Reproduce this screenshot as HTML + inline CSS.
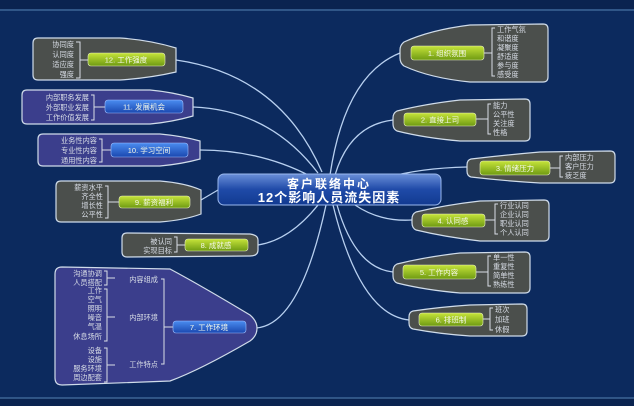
<!DOCTYPE html>
<html><head><meta charset="utf-8"><style>
html,body{margin:0;padding:0;background:#0c2a5e;}
svg{display:block}
text{font-family:"Liberation Sans","Noto Sans CJK SC",sans-serif;}
.l{fill:#d8dde6;font-size:7.2px}
.b{fill:#f4f8e8;font-size:7.5px}
</style></head><body>
<svg width="634" height="406" viewBox="0 0 634 406" xmlns="http://www.w3.org/2000/svg">
<defs>
<linearGradient id="g" x1="0" y1="0" x2="0" y2="1"><stop offset="0" stop-color="#c6e43a"/><stop offset="1" stop-color="#6e9a12"/></linearGradient>
<linearGradient id="bl" x1="0" y1="0" x2="0" y2="1"><stop offset="0" stop-color="#4a8cf0"/><stop offset="1" stop-color="#1a48b0"/></linearGradient>
<linearGradient id="c" x1="0" y1="0" x2="0" y2="1"><stop offset="0" stop-color="#6a8fd8"/><stop offset="0.5" stop-color="#1f4aa8"/><stop offset="1" stop-color="#123a90"/></linearGradient>
</defs>
<rect width="634" height="406" fill="#0c2a5e"/>
<rect x="0" y="0" width="634" height="9" fill="#0a2350"/>
<line x1="0" y1="10" x2="634" y2="10" stroke="#3d6496" stroke-width="1.5"/>
<rect x="0" y="398" width="634" height="8" fill="#0a2350"/>
<line x1="0" y1="398" x2="634" y2="398" stroke="#3d6496" stroke-width="1.5"/>

<g fill="none" stroke="#b8d0f0" stroke-width="1.3">
<path d="M330,175 Q345,75 400,53"/>
<path d="M335,175 Q350,125 393,120"/>
<path d="M385,178 Q420,168 467,167"/>
<path d="M355,205 Q380,222 412,220"/>
<path d="M337,205 Q355,268 393,272"/>
<path d="M333,205 Q360,315 409,320"/>
<path d="M322,172 Q280,75 176,60"/>
<path d="M318,173 Q270,110 193,107"/>
<path d="M310,176 Q260,150 200,150"/>
<path d="M218,190 L201,200"/>
<path d="M318,205 Q290,240 258,245"/>
<path d="M326,205 Q300,325 256,328"/>
</g>

<g stroke="#d0dcea" stroke-width="1.2">
<path d="M38,38 L120,38 Q150,40 176,48 L176,72 Q150,78 120,80 L38,80 Q33,80 33,75 L33,43 Q33,38 38,38Z" fill="#4b4f4c"/>
<path d="M27,90 L150,90 Q172,92 193,98 L193,116 Q172,122 150,124 L27,124 Q22,124 22,119 L22,95 Q22,90 27,90Z" fill="#3b3e8c"/>
<path d="M43,134 L160,134 Q182,136 200,141 L200,159 Q182,164 160,166 L43,166 Q38,166 38,161 L38,139 Q38,134 43,134Z" fill="#3b3e8c"/>
<path d="M61,181 L160,181 Q185,183 201,190 L201,214 Q185,220 160,222 L61,222 Q56,222 56,217 L56,186 Q56,181 61,181Z" fill="#4b4f4c"/>
<path d="M127,233 L250,234 Q258,235 258,240 L258,250 Q258,256 250,256 L127,257 Q122,257 122,252 L122,238 Q122,233 127,233Z" fill="#4b4f4c"/>
<path d="M62,267 L170,269 Q200,285 250,315 Q257,321 257,328 Q257,336 250,341 Q200,370 170,381 L62,385 Q55,385 55,378 L55,274 Q55,267 62,267Z" fill="#3b3e8c"/>
</g>
<g stroke="#d0dcea" stroke-width="1.2" fill="#4b4f4c">
<path d="M543,24 L470,25 Q430,30 404,42 Q400,45 400,50 L400,58 Q400,63 404,66 Q430,78 470,82 L543,82 Q548,82 548,77 L548,29 Q548,24 543,24Z"/>
<path d="M525,99 L460,100 Q425,104 397,111 Q393,113 393,118 L393,124 Q393,129 397,131 Q425,138 460,141 L525,141 Q530,141 530,136 L530,104 Q530,99 525,99Z"/>
<path d="M610,151 L540,152 Q505,155 471,159 Q467,160 467,165 L467,171 Q467,176 471,177 Q505,181 540,183 L610,183 Q615,183 615,178 L615,156 Q615,151 610,151Z"/>
<path d="M544,200 L480,201 Q445,205 416,212 Q412,214 412,219 L412,223 Q412,228 416,230 Q445,237 480,241 L544,241 Q549,241 549,236 L549,205 Q549,200 544,200Z"/>
<path d="M525,252 L460,253 Q425,257 397,264 Q393,266 393,271 L393,276 Q393,281 397,283 Q425,290 460,293 L525,293 Q530,293 530,288 L530,257 Q530,252 525,252Z"/>
<path d="M522,304 L470,305 Q440,307 413,311 Q409,312 409,317 L409,323 Q409,328 413,329 Q440,334 470,336 L522,336 Q527,336 527,331 L527,309 Q527,304 522,304Z"/>
</g>

<g fill="none" stroke="#d8dde6" stroke-width="1">
<path d="M76,42 L80,42 L80,78 L76,78 M80,60 L88,60"/>
<path d="M91,95 L94,95 L94,120 L91,120 M94,107 L105,107"/>
<path d="M99,139 L102,139 L102,162 L99,162 M102,150 L111,150"/>
<path d="M105,186 L108,186 L108,218 L105,218 M108,202 L119,202"/>
<path d="M174,237 L177,237 L177,252 L174,252 M177,245 L185,245"/>
<path d="M104,271 L107,271 L107,285 L104,285 M107,278 L115,278"/>
<path d="M104,289 L107,289 L107,341 L104,341 M107,317 L115,317"/>
<path d="M104,348 L107,348 L107,382 L104,382 M107,365 L115,365"/>
<path d="M161,279 L164,279 L164,364 L161,364 M164,327 L173,327"/>
<path d="M495,28 L492,28 L492,76 L495,76 M492,53 L484,53"/>
<path d="M491,104 L488,104 L488,134 L491,134 M488,119 L476,119"/>
<path d="M563,156 L560,156 L560,177 L563,177 M560,168 L550,168"/>
<path d="M498,204 L495,204 L495,234 L498,234 M495,220 L485,220"/>
<path d="M491,256 L488,256 L488,286 L491,286 M488,272 L476,272"/>
<path d="M493,308 L490,308 L490,330 L493,330 M490,319 L483,319"/>
</g>

<g stroke="#e8f0c0" stroke-width="0.6">
<rect x="88" y="53" width="77" height="13" rx="3" fill="url(#g)"/>
<rect x="105" y="100" width="78" height="13" rx="3" fill="url(#bl)" stroke="#a0c0ff"/>
<rect x="111" y="143" width="77" height="14" rx="3" fill="url(#bl)" stroke="#a0c0ff"/>
<rect x="119" y="196" width="71" height="12" rx="3" fill="url(#g)"/>
<rect x="185" y="239" width="63" height="12" rx="3" fill="url(#g)"/>
<rect x="173" y="321" width="73" height="12" rx="3" fill="url(#bl)" stroke="#a0c0ff"/>
<rect x="411" y="46" width="73" height="14" rx="3" fill="url(#g)"/>
<rect x="404" y="113" width="72" height="13" rx="3" fill="url(#g)"/>
<rect x="480" y="161" width="70" height="14" rx="3" fill="url(#g)"/>
<rect x="422" y="214" width="63" height="13" rx="3" fill="url(#g)"/>
<rect x="403" y="265" width="73" height="14" rx="3" fill="url(#g)"/>
<rect x="419" y="313" width="64" height="13" rx="3" fill="url(#g)"/>
</g>
<g text-anchor="middle">
<text x="126" y="62.5" class="b">12. 工作强度</text>
<text x="144" y="109.5" class="b">11. 发展机会</text>
<text x="149" y="153" class="b">10. 学习空间</text>
<text x="154" y="205" class="b">9. 薪资福利</text>
<text x="216" y="248" class="b">8. 成就感</text>
<text x="209" y="330" class="b">7. 工作环境</text>
<text x="447" y="56" class="b">1. 组织氛围</text>
<text x="440" y="122.5" class="b">2. 直接上司</text>
<text x="515" y="171" class="b">3. 情绪压力</text>
<text x="453" y="223.5" class="b">4. 认同感</text>
<text x="439" y="275" class="b">5. 工作内容</text>
<text x="451" y="322.5" class="b">6. 排班制</text>
</g>

<g class="l" text-anchor="end">
<text x="74" y="47">协同度</text><text x="74" y="57">认同度</text><text x="74" y="67">适应度</text><text x="74" y="77">强度</text>
<text x="89" y="100">内部职务发展</text><text x="89" y="110">外部职业发展</text><text x="89" y="120">工作价值发展</text>
<text x="97" y="143">业务性内容</text><text x="97" y="153">专业性内容</text><text x="97" y="163">通用性内容</text>
<text x="103" y="190">薪资水平</text><text x="103" y="199">齐全性</text><text x="103" y="208">增长性</text><text x="103" y="217">公平性</text>
<text x="172" y="244">被认同</text><text x="172" y="253">实现目标</text>
<text x="102" y="276">沟通协调</text><text x="102" y="285">人员搭配</text>
<text x="102" y="293">工作</text><text x="102" y="302">空气</text><text x="102" y="311">照明</text><text x="102" y="320">噪音</text><text x="102" y="329">气温</text><text x="102" y="339">休息场所</text>
<text x="102" y="353">设备</text><text x="102" y="362">设施</text><text x="102" y="371">服务环境</text><text x="102" y="380">周边配套</text>
<text x="158" y="282">内容组成</text><text x="158" y="320">内部环境</text><text x="158" y="367">工作特点</text>
</g>
<g class="l">
<text x="497" y="32">工作气氛</text><text x="497" y="41">和谐度</text><text x="497" y="50">凝聚度</text><text x="497" y="59">舒适度</text><text x="497" y="68">参与度</text><text x="497" y="77">感受度</text>
<text x="493" y="108">能力</text><text x="493" y="117">公平性</text><text x="493" y="126">关注度</text><text x="493" y="135">性格</text>
<text x="565" y="160">内部压力</text><text x="565" y="169">客户压力</text><text x="565" y="178">疲乏度</text>
<text x="500" y="208">行业认同</text><text x="500" y="217">企业认同</text><text x="500" y="226">职业认同</text><text x="500" y="235">个人认同</text>
<text x="493" y="260">单一性</text><text x="493" y="269">重复性</text><text x="493" y="278">简单性</text><text x="493" y="287">熟练性</text>
<text x="495" y="312">班次</text><text x="495" y="322">加班</text><text x="495" y="332">休假</text>
</g>

<rect x="218" y="174" width="223" height="31" rx="6" fill="url(#c)" stroke="#9ab8ee" stroke-width="1"/>
<text x="329" y="188" text-anchor="middle" fill="#fff" font-size="12" font-weight="bold" letter-spacing="2">客户联络中心</text>
<text x="329" y="202" text-anchor="middle" fill="#fff" font-size="13" font-weight="bold" letter-spacing="1">12个影响人员流失因素</text>
</svg>
</body></html>
